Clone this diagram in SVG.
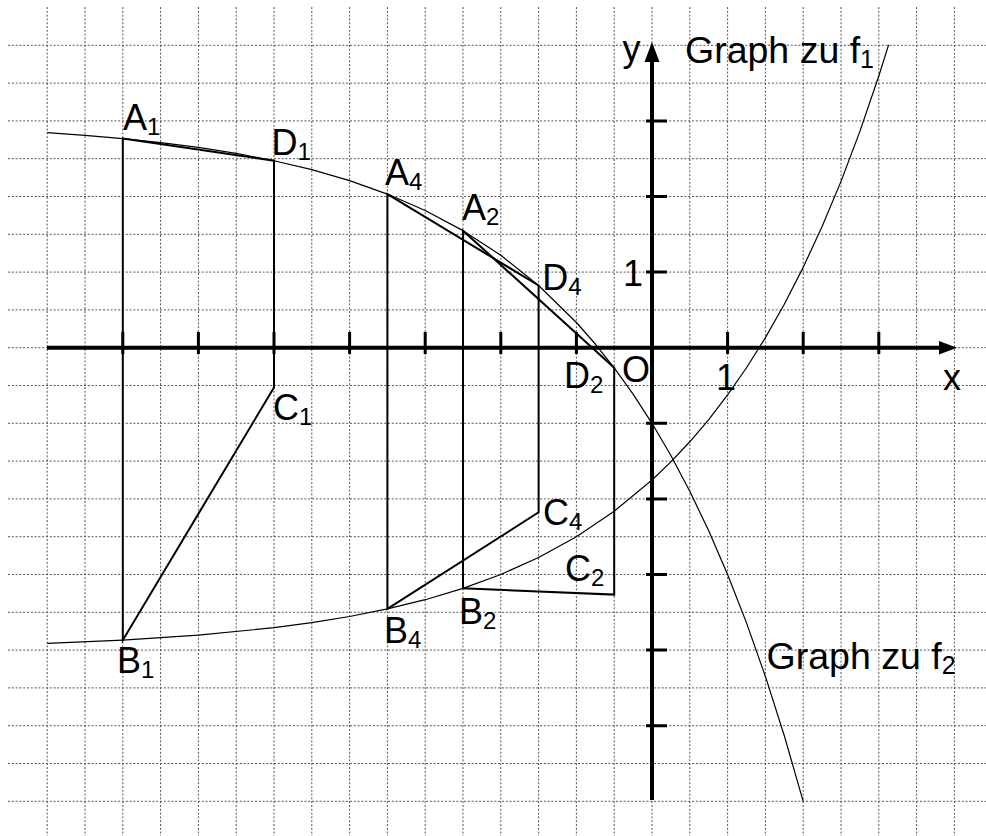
<svg xmlns="http://www.w3.org/2000/svg" width="986" height="836" viewBox="0 0 986 836">
<style>
.grid{stroke:#555;stroke-width:1;stroke-dasharray:2 1.8;fill:none}
.axis{stroke:#000;stroke-width:4;fill:none}
.tick{stroke:#000;stroke-width:3;fill:none}
.curve{stroke:#000;stroke-width:1.2;fill:none;stroke-linejoin:round}
.quad{stroke:#000;stroke-width:2;fill:none;stroke-linejoin:miter}
text{font-family:"Liberation Sans",Arial,sans-serif;font-size:36px;fill:#000}
.big{font-size:37.5px}
.sub{font-size:24px}
.bsub{font-size:25px}
</style>
<rect width="986" height="836" fill="#fff"/>
<g id="grid" class="grid">
<path d="M47.2 7V836M85 7V836M122.8 7V836M160.6 7V836M198.4 7V836M236.2 7V836M274 7V836M311.8 7V836M349.6 7V836M387.4 7V836M425.2 7V836M463 7V836M500.8 7V836M538.6 7V836M576.4 7V836M614.2 7V836M652 7V836M689.8 7V836M727.6 7V836M765.4 7V836M803.2 7V836M841 7V836M878.8 7V836M916.6 7V836M954.4 7V836"/>
<path d="M8 45.3H986M8 83.1H986M8 120.9H986M8 158.7H986M8 196.5H986M8 234.3H986M8 272.1H986M8 309.9H986M8 347.7H986M8 385.5H986M8 423.3H986M8 461.1H986M8 498.9H986M8 536.7H986M8 574.5H986M8 612.3H986M8 650.1H986M8 687.9H986M8 725.7H986M8 763.5H986M8 801.3H986"/>
</g>
<g id="axes">
<path class="axis" d="M47 347.7H942"/>
<polygon points="957,347.7 939,341 939,354.4" fill="#000"/>
<path class="axis" d="M652 800V60"/>
<polygon points="652,42 644.5,62 659.5,62" fill="#000"/>
<path class="tick" d="M122.8 332V354M198.4 332V354M274 332V354M349.6 332V354M425.2 332V354M500.8 332V354M576.4 332V354M727.6 332V354M803.2 332V354M878.8 332V354"/>
<path class="tick" d="M646 272.1H667M646 196.5H667M646 120.9H667M646 423.3H667M646 498.9H667M646 574.5H667M646 650.1H667M646 725.7H667"/>
</g>
<g id="curves">
<path id="graph-f2" class="curve" d="M47.2 132.7L85 135.35L122.8 138.6L160.6 142.58L198.4 147.45L236.2 153.41L274 160.72L311.8 169.67L349.6 180.63L387.4 194.06L425.2 210.5L463 230.64L500.8 255.3L538.6 285.51L576.4 322.5L595.3 344.01L614.2 367.81L633.1 394.15L652 423.3L670.9 455.56L689.8 491.26L708.7 530.77L727.6 574.5L746.5 622.89L765.4 676.44L784.3 735.71L803.2 801.3"/>
<path id="graph-f1" class="curve" d="M47.2 643.46L122.8 640.14L198.4 635.17L274 627.7L311.8 622.67L349.6 616.5L387.4 608.95L425.2 599.7L463 588.37L500.8 574.5L538.6 557.51L576.4 536.7L614.2 511.21L652 480L670.9 461.85L689.8 441.77L708.7 419.55L727.6 394.95L746.5 367.73L765.4 337.61L784.3 304.27L803.2 267.37L822.1 226.54L841 181.36L859.9 131.35L878.8 76.01L888.6 44.94"/>
</g>
<g id="connectors">
<path id="quad1" class="quad" d="M122.8 138.6L274 160.72V387.5L122.8 640.14Z"/>
<path id="quad4" class="quad" d="M387.4 194.06L538.6 285.51V512.31L387.4 608.95Z"/>
<path id="quad2" class="quad" d="M463 230.64L614.2 367.81V594.61L463 588.37Z"/>
</g>
<g id="label-A1"><text x="123" y="129.5">A<tspan class="sub" dy="5">1</tspan></text></g>
<g id="label-D1"><text x="271.5" y="154.5">D<tspan class="sub" dy="5">1</tspan></text></g>
<g id="label-C1"><text x="273" y="420">C<tspan class="sub" dy="5">1</tspan></text></g>
<g id="label-B1"><text x="117" y="673">B<tspan class="sub" dy="5">1</tspan></text></g>
<g id="label-A4"><text x="385" y="184.5">A<tspan class="sub" dy="5">4</tspan></text></g>
<g id="label-D4"><text x="542.2" y="290">D<tspan class="sub" dy="5">4</tspan></text></g>
<g id="label-C4"><text x="543" y="525">C<tspan class="sub" dy="5">4</tspan></text></g>
<g id="label-B4"><text x="384" y="643">B<tspan class="sub" dy="5">4</tspan></text></g>
<g id="label-A2"><text x="462" y="219.5">A<tspan class="sub" dy="5">2</tspan></text></g>
<g id="label-D2"><text x="564" y="388">D<tspan class="sub" dy="5">2</tspan></text></g>
<g id="label-C2"><text x="565" y="581">C<tspan class="sub" dy="5">2</tspan></text></g>
<g id="label-B2"><text x="459" y="624">B<tspan class="sub" dy="5">2</tspan></text></g>
<g id="label-O"><text x="622" y="381.5">O</text></g>
<g id="label-x1"><text x="716" y="390">1</text></g>
<g id="label-y1"><text x="623" y="286">1</text></g>
<g id="label-x"><text x="943" y="390">x</text></g>
<g id="label-y"><text x="622.5" y="61">y</text></g>
<g id="label-f1"><text class="big" x="685" y="62.5">Graph zu f<tspan class="bsub" dy="5">1</tspan></text></g>
<g id="label-f2"><text class="big" x="766.6" y="669">Graph zu f<tspan class="bsub" dy="5">2</tspan></text></g>
</svg>
